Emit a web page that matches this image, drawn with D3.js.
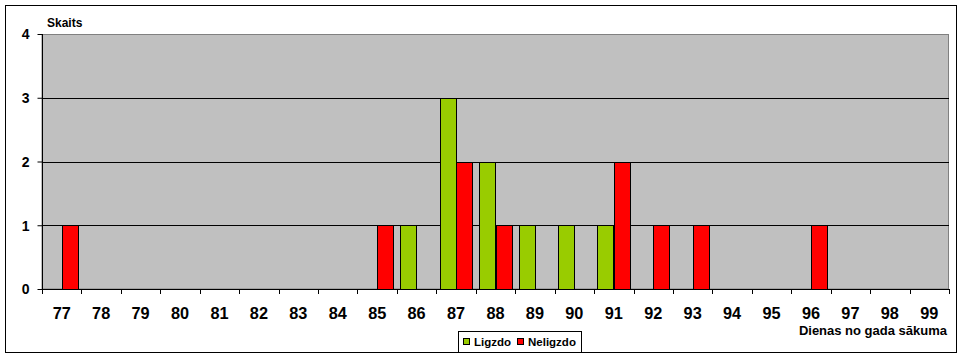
<!DOCTYPE html>
<html><head><meta charset="utf-8">
<script src="https://cdn.jsdelivr.net/npm/d3@7"></script>
<style>body{margin:0;background:#fff}svg{display:block}text{font-family:"Liberation Sans",Arial,sans-serif;font-weight:bold;fill:#000}</style>
</head><body>
<script>
const days = ["77","78","79","80","81","82","83","84","85","86","87","88","89","90","91","92","93","94","95","96","97","98","99"];
const ligzdo   = [0,0,0,0,0,0,0,0,0,1,3,2,1,1,1,0,0,0,0,0,0,0,0];
const neligzdo = [1,0,0,0,0,0,0,0,1,0,2,1,0,0,2,1,1,0,0,1,0,0,0];
const seriesNames = ["Ligzdo","Neligzdo"];
const seriesColors = ["#99CC00","#FF0000"];
const yTicks = [0,1,2,3,4];

const W=962,H=358;
const svg=d3.select("body").append("svg").attr("width",W).attr("height",H);
svg.append("rect").attr("x",5.5).attr("y",5.5).attr("width",951).attr("height",347).attr("fill","#fff").attr("stroke","#000");

const L=42,R=949,T=34,B=289;
const x=d3.scaleBand().domain(days).range([L,R]).padding(0);
const xs=d3.scaleBand().domain(seriesNames).range([0,x.bandwidth()]).paddingInner(0).paddingOuter(0.2);
const y=d3.scaleLinear().domain([0,4]).range([B,T]);

svg.append("rect").attr("x",L).attr("y",T+0.5).attr("width",R-L-0.5).attr("height",B-T-0.5).attr("fill","#C0C0C0").attr("stroke","#808080");

svg.append("g").selectAll("line").data(yTicks.filter(d=>d>0&&d<4)).join("line")
  .attr("x1",L).attr("x2",R).attr("y1",d=>Math.round(y(d))+0.5).attr("y2",d=>Math.round(y(d))+0.5).attr("stroke","#000");

const data=[ligzdo,neligzdo];
data.forEach((vals,si)=>{
  svg.append("g").selectAll("rect").data(days.map((d,i)=>({d,v:vals[i]})).filter(o=>o.v>0)).join("rect")
    .attr("x",o=>Math.round(x(o.d)+xs(seriesNames[si]))+0.5)
    .attr("width",Math.round(xs.bandwidth()))
    .attr("y",o=>Math.round(y(o.v))+0.5)
    .attr("height",o=>Math.round(y(0))-Math.round(y(o.v)))
    .attr("fill",seriesColors[si]).attr("stroke","#000");
});

// y axis
const ya=svg.append("g").attr("transform",`translate(${L+0.5},0)`).call(d3.axisLeft(y).tickValues(yTicks).tickSize(5).tickPadding(8).tickFormat(d3.format("d")));
ya.select(".domain").attr("stroke","#000").attr("d",`M0,${T}V${B}`);
ya.selectAll(".tick line").attr("stroke","#000");
ya.selectAll("text").attr("font-size","14px").attr("font-family","Liberation Sans, Arial, sans-serif").attr("font-weight","bold").attr("dy","0.35em");

// x axis
const xa=svg.append("g").attr("transform",`translate(0,${B+0.5})`).call(d3.axisBottom(x).tickSize(0).tickPadding(0));
xa.select(".domain").attr("stroke","#000").attr("d",`M${L},0H${R}`);
xa.selectAll(".tick text").attr("font-size","16.3px").attr("font-family","Liberation Sans, Arial, sans-serif").attr("font-weight","bold").attr("y",29.5).attr("dy",0);
svg.append("g").selectAll("line").data(days.concat(["end"])).join("line")
  .attr("x1",(d,i)=>Math.round(L+i*x.step())+0.5).attr("x2",(d,i)=>Math.round(L+i*x.step())+0.5)
  .attr("y1",B).attr("y2",B+5).attr("stroke","#000");

svg.append("text").attr("x",47).attr("y",26.5).attr("font-size","12px").text("Skaits");
svg.append("text").attr("x",947).attr("y",335.3).attr("text-anchor","end").attr("font-size","13px").text("Dienas no gada sākuma");

// legend
const lg=svg.append("g");
lg.append("rect").attr("x",458.5).attr("y",331.5).attr("width",123).attr("height",21).attr("fill","#fff").attr("stroke","#000");
const lx=[463.5,517.5];
seriesNames.forEach((n,i)=>{
  lg.append("rect").attr("x",lx[i]).attr("y",338.5).attr("width",6).attr("height",6).attr("fill",seriesColors[i]).attr("stroke","#000");
  lg.append("text").attr("x",lx[i]+10.5).attr("y",345.5).attr("font-size","11.5px").text(n);
});
</script>
</body></html>
